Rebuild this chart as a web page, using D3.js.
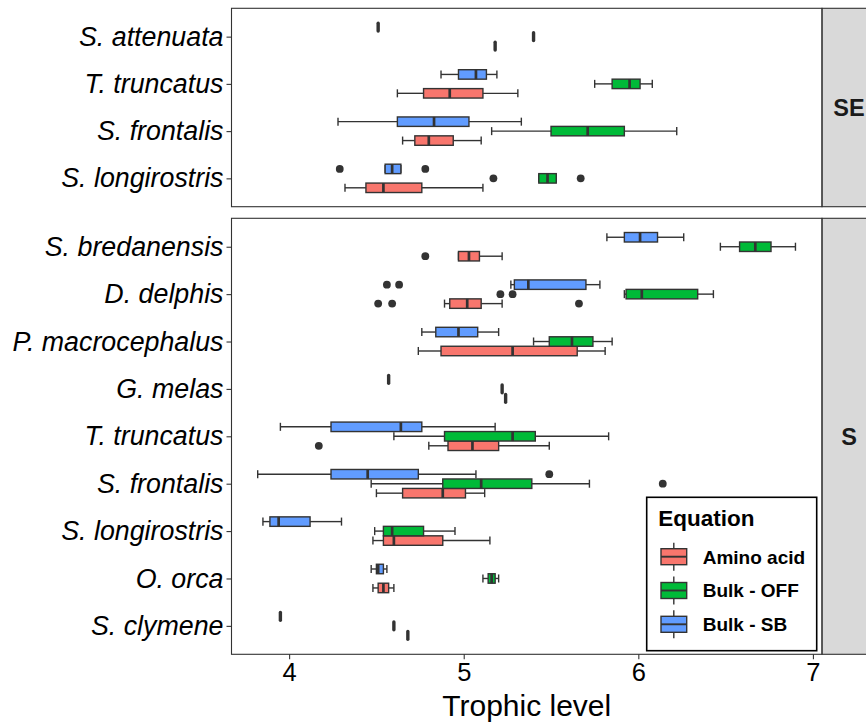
<!DOCTYPE html>
<html>
<head>
<meta charset="utf-8">
<script src="https://cdn.jsdelivr.net/npm/d3@7"></script>
<style>
    body { margin: 0; background: #fff; }
    text { font-family: "Liberation Sans", Arial, sans-serif; }
</style>
</head>
<body>
<div id="chart"></div>
<script>
// facets, top to bottom
var regions = ["SE", "S"];
var speciesSE = ["S. attenuata", "T. truncatus", "S. frontalis", "S. longirostris"];
var speciesS = ["S. bredanensis", "D. delphis", "P. macrocephalus", "G. melas", "T. truncatus",
    "S. frontalis", "S. longirostris", "O. orca", "S. clymene"];
var equations = ["Amino acid", "Bulk - OFF", "Bulk - SB"];
var xTicks = [4, 5, 6, 7];

// [lower whisker, q1, median, q3, upper whisker], one row per species
var aminoSE = [[5.18, 5.18, 5.18, 5.18, 5.18], [4.62, 4.77, 4.92, 5.11, 5.31], [4.65, 4.72, 4.80, 4.94, 5.10], [4.32, 4.44, 4.54, 4.76, 5.11]];
var offSE = [[5.40, 5.40, 5.40, 5.40, 5.40], [5.75, 5.85, 5.95, 6.01, 6.08], [5.16, 5.50, 5.71, 5.92, 6.22], [5.43, 5.43, 5.48, 5.53, 5.53]];
var sbSE = [[4.51, 4.51, 4.51, 4.51, 4.51], [4.87, 4.97, 5.07, 5.13, 5.19], [4.28, 4.62, 4.83, 5.03, 5.33], [4.55, 4.55, 4.59, 4.64, 4.64]];

var aminoS = [[4.97, 4.97, 5.03, 5.09, 5.22], [4.89, 4.92, 5.02, 5.10, 5.22], [4.74, 4.87, 5.28, 5.65, 5.81], [5.24, 5.24, 5.24, 5.24, 5.24],
    [4.80, 4.91, 5.05, 5.20, 5.49], [4.50, 4.65, 4.88, 5.01, 5.12], [4.48, 4.54, 4.60, 4.88, 5.15], [4.48, 4.51, 4.54, 4.57, 4.60], [4.68, 4.68, 4.68, 4.68, 4.68]];
var offS = [[6.47, 6.58, 6.67, 6.76, 6.90], [5.92, 5.93, 6.02, 6.34, 6.43], [5.40, 5.49, 5.62, 5.74, 5.85], [5.22, 5.22, 5.22, 5.22, 5.22],
    [4.60, 4.89, 5.28, 5.41, 5.83], [4.47, 4.88, 5.10, 5.39, 5.72], [4.49, 4.54, 4.59, 4.77, 4.95], [5.11, 5.14, 5.16, 5.18, 5.20], [4.60, 4.60, 4.60, 4.60, 4.60]];
var sbS = [[5.82, 5.92, 6.01, 6.11, 6.26], [5.27, 5.29, 5.37, 5.70, 5.78], [4.76, 4.84, 4.97, 5.08, 5.20], [4.57, 4.57, 4.57, 4.57, 4.57],
    [3.95, 4.24, 4.64, 4.76, 5.18], [3.82, 4.24, 4.45, 4.74, 5.07], [3.85, 3.89, 3.94, 4.12, 4.30], [4.47, 4.50, 4.51, 4.54, 4.56], [3.95, 3.95, 3.95, 3.95, 3.95]];

// outlying points
var aminoOutSE = [[], [], [], []];
var offOutSE = [[], [], [], [5.17, 5.67]];
var sbOutSE = [[], [], [], [4.29, 4.78]];
var aminoOutS = [[4.78], [4.51, 4.59, 5.66], [], [], [4.17], [], [], [], []];
var offOutS = [[], [5.21, 5.28], [], [], [], [6.14], [], [], []];
var sbOutS = [[], [4.56, 4.63], [], [], [], [5.49], [], [], []];

var colors = ["#F8766D", "#00BA38", "#619CFF"];

var width = 866,
    height = 723;

var svg = d3.select("#chart")
    .append("svg")
    .attr("xmlns", "http://www.w3.org/2000/svg")
    .attr("width", width)
    .attr("height", height);

var x = d3.scaleLinear().domain([3.670, 7.052]).range([231.5, 822]);

var panels = [
    {name: regions[0], species: speciesSE, stats: [aminoSE, offSE, sbSE], outs: [aminoOutSE, offOutSE, sbOutSE], top: 8.3, bottom: 206.7},
    {name: regions[1], species: speciesS, stats: [aminoS, offS, sbS], outs: [aminoOutS, offOutS, sbOutS], top: 218.3, bottom: 654.3}
];

var dark = "#333333";

panels.forEach(function (p) {
    var y = d3.scalePoint().domain(p.species).range([p.top, p.bottom]).padding(0.6);
    var step = y.step();
    var boxH = step * 0.2,
        capH = step * 0.17;

    var g = svg.append("g");

    g.append("rect")
        .attr("x", x.range()[0]).attr("y", p.top)
        .attr("width", x.range()[1] - x.range()[0]).attr("height", p.bottom - p.top)
        .attr("fill", "#fff");

    // strip on the right
    g.append("rect")
        .attr("x", 822).attr("y", p.top)
        .attr("width", 60).attr("height", p.bottom - p.top)
        .attr("fill", "#D9D9D9").attr("stroke", dark).attr("stroke-width", 1.1);
    g.append("text")
        .attr("x", 849).attr("y", (p.top + p.bottom) / 2)
        .attr("dy", "0.36em")
        .attr("text-anchor", "middle")
        .attr("font-weight", "bold")
        .attr("font-size", 23.5)
        .attr("fill", "#1a1a1a")
        .text(p.name);

    // y axis
    var yAxis = g.append("g")
        .attr("transform", "translate(" + x.range()[0] + ",0)")
        .call(d3.axisLeft(y).tickSize(5).tickPadding(3));
    yAxis.select(".domain").remove();
    yAxis.selectAll("line").attr("stroke", dark).attr("stroke-width", 1.1);
    yAxis.selectAll("text")
        .attr("font-size", 26.8)
        .attr("font-style", "italic")
        .attr("font-family", "Liberation Sans, Arial, sans-serif")
        .attr("fill", "#000");

    // boxes, one slot per equation: Amino acid lowest, Bulk - SB on top
    equations.forEach(function (eq, k) {
        var off = (1 - k) * step * 0.2;
        p.stats[k].forEach(function (s, i) {
            var cy = y(p.species[i]) + off;
            var single = !(s[4] > s[0]);
            var bg = g.append("g");
            bg.append("line")
                .attr("x1", x(s[0])).attr("x2", x(s[1]))
                .attr("y1", cy).attr("y2", cy)
                .attr("stroke", dark).attr("stroke-width", 1.4);
            bg.append("line")
                .attr("x1", x(s[3])).attr("x2", x(s[4]))
                .attr("y1", cy).attr("y2", cy)
                .attr("stroke", dark).attr("stroke-width", 1.4);
            [s[0], s[4]].forEach(function (v) {
                bg.append("line")
                    .attr("x1", x(v)).attr("x2", x(v))
                    .attr("y1", cy - capH / 2).attr("y2", cy + capH / 2)
                    .attr("stroke", dark).attr("stroke-width", 1.4);
            });
            if (s[3] > s[1]) {
                bg.append("rect")
                    .attr("x", x(s[1])).attr("y", cy - boxH / 2)
                    .attr("width", x(s[3]) - x(s[1])).attr("height", boxH)
                    .attr("fill", colors[k])
                    .attr("stroke", dark).attr("stroke-width", 1.4);
            }
            bg.append("line")
                .attr("x1", x(s[2])).attr("x2", x(s[2]))
                .attr("y1", cy - boxH / 2 + (single ? 0.8 : 0)).attr("y2", cy + boxH / 2 - (single ? 0.8 : 0))
                .attr("stroke", dark).attr("stroke-width", single ? 3.4 : 2.7)
                .attr("stroke-linecap", single ? "round" : "butt");

            g.selectAll(null)
                .data(p.outs[k][i])
                .enter()
                .append("circle")
                .attr("cx", function (d) { return x(d); })
                .attr("cy", cy)
                .attr("r", 3.9)
                .attr("fill", dark);
        });
    });

    g.append("rect")
        .attr("x", x.range()[0]).attr("y", p.top)
        .attr("width", x.range()[1] - x.range()[0]).attr("height", p.bottom - p.top)
        .attr("fill", "none").attr("stroke", dark).attr("stroke-width", 1.1);
});

// x axis under the lower panel
var xAxis = svg.append("g")
    .attr("transform", "translate(0," + panels[1].bottom + ")")
    .call(d3.axisBottom(x).tickValues(xTicks).tickFormat(d3.format("d")).tickSize(5).tickPadding(4));
xAxis.select(".domain").remove();
xAxis.selectAll("line").attr("stroke", dark).attr("stroke-width", 1.1);
xAxis.selectAll("text")
    .attr("font-size", 25.5)
    .attr("font-family", "Liberation Sans, Arial, sans-serif")
    .attr("fill", "#000");

svg.append("text")
    .attr("x", (x.range()[0] + x.range()[1]) / 2)
    .attr("y", 716)
    .attr("text-anchor", "middle")
    .attr("font-size", 30)
    .attr("fill", "#000")
    .text("Trophic level");

// legend
var legend = svg.append("g");
legend.append("rect")
    .attr("x", 646.7).attr("y", 497.3)
    .attr("width", 170).attr("height", 153.4)
    .attr("fill", "#fff").attr("stroke", "#000").attr("stroke-width", 1.6);
legend.append("text")
    .attr("x", 658.3).attr("y", 526)
    .attr("font-weight", "bold").attr("font-size", 22.5)
    .attr("fill", "#000")
    .text("Equation");

equations.forEach(function (eq, k) {
    var cy = 556.7 + k * 33.8;
    var key = legend.append("g");
    key.append("line")
        .attr("x1", 673.8).attr("x2", 673.8)
        .attr("y1", cy - 14).attr("y2", cy + 14)
        .attr("stroke", dark).attr("stroke-width", 1.4);
    key.append("rect")
        .attr("x", 661).attr("y", cy - 8)
        .attr("width", 25.7).attr("height", 16)
        .attr("fill", colors[k]).attr("stroke", dark).attr("stroke-width", 1.4);
    key.append("line")
        .attr("x1", 661).attr("x2", 686.7)
        .attr("y1", cy).attr("y2", cy)
        .attr("stroke", dark).attr("stroke-width", 1.9);
    key.append("text")
        .attr("x", 702.7).attr("y", cy)
        .attr("dy", "0.36em")
        .attr("font-weight", "bold").attr("font-size", 19)
        .attr("fill", "#000")
        .text(eq);
});
</script>
</body>
</html>
